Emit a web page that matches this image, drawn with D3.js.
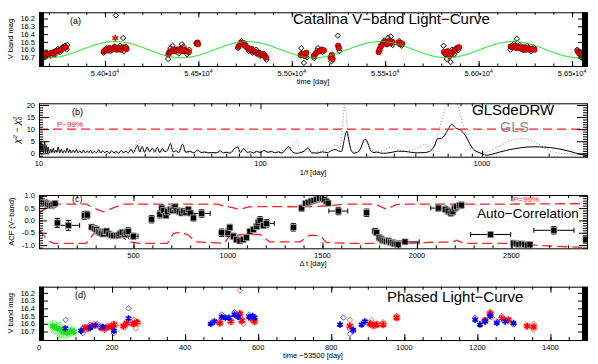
<!DOCTYPE html>
<html><head><meta charset="utf-8">
<script src="https://cdn.jsdelivr.net/npm/d3@7"></script>
<style>
body{margin:0;background:#fff}
svg{display:block;font-family:"Liberation Sans",Arial,Helvetica,sans-serif}
</style></head><body>
<svg id="c" width="598" height="364"></svg>
<script>
// ---------------- DATA ----------------
// (a) Catalina light curve: black diamonds = single observations [MJD, Vmag]
const lcDiam = [[53648,16.70],[53665,16.69],[53680,16.70],[53695,16.67],[53710,16.68],[53722,16.63],[53735,16.66],[53748,16.59],[53760,16.63],[53772,16.57],[53785,16.55],[53795,16.60],[53798,16.54],
[53992,16.64],[54010,16.58],[54030,16.62],[54050,16.56],[54058,16.16],[54080,16.55],[54097,16.45],[54100,16.62],[54112,16.56],
[54338,16.72],[54350,16.58],[54362,16.55],[54395,16.65],[54412,16.53],[54420,16.56],[54440,16.66],[54452,16.60],
[54712,16.58],[54730,16.49],[54750,16.52],[54770,16.62],[54790,16.64],[54810,16.60],[54830,16.68],[54850,16.65],[54865,16.73],
[55050,16.58],[55065,16.77],[55080,16.70],[55120,16.71],[55140,16.58],[55165,16.63],[55212,16.75],[55246,16.42],[55255,16.62],
[55475,16.57],[55495,16.48],[55515,16.45],[55530,16.43],[55540,16.54],[55575,16.49],[55588,16.55],
[55812,16.55],[55830,16.72],[55850,16.76],[55858,16.60],[55870,16.66],[55890,16.61],
[56170,16.60],[56190,16.52],[56205,16.46],[56220,16.54],[56240,16.61],[56260,16.55],[56280,16.62],[56295,16.57],
[56528,16.60],[56548,16.70],[56565,16.73],[56578,16.72]];
// red filled circles = nightly means
const lcRed = [[53650,16.67],[53660,16.66],[53672,16.68],[53685,16.65],[53700,16.66],[53712,16.64],[53725,16.65],[53738,16.62],[53752,16.61],[53765,16.60],[53778,16.58],[53790,16.57],
[53995,16.62],[54005,16.60],[54015,16.61],[54025,16.58],[54035,16.60],[54045,16.59],[54055,16.57],[54065,16.60],[54075,16.58],[54085,16.60],[54095,16.57],[54105,16.58],[54115,16.59],
[54340,16.66],[54345,16.63],[54355,16.62],[54365,16.60],[54375,16.62],[54385,16.60],[54395,16.61],[54405,16.59],[54415,16.62],[54425,16.60],[54435,16.62],[54448,16.63],
[54490,16.52],[54495,16.51],[54498,16.53],
[54715,16.56],[54725,16.53],[54735,16.51],[54745,16.54],[54755,16.56],[54765,16.58],[54775,16.60],[54785,16.59],[54795,16.62],[54805,16.63],[54815,16.65],[54825,16.64],[54835,16.66],[54845,16.67],[54855,16.68],[54862,16.70],
[55048,16.67],[55055,16.65],[55062,16.66],[55070,16.68],[55078,16.64],
[55118,16.68],[55128,16.65],[55138,16.62],[55148,16.62],[55160,16.60],[55172,16.61],
[55208,16.70],[55214,16.67],[55218,16.72],[55248,16.55],[55252,16.58],
[55465,16.63],[55470,16.60],[55478,16.55],[55488,16.52],[55498,16.50],[55508,16.53],[55518,16.49],[55528,16.52],[55538,16.50],
[55572,16.51],[55580,16.53],[55590,16.52],
[55815,16.63],[55825,16.66],[55835,16.62],[55845,16.68],[55855,16.65],[55865,16.62],[55875,16.60],[55885,16.58],[55895,16.57],
[56172,16.56],[56182,16.57],[56192,16.55],[56202,16.58],[56212,16.56],[56222,16.58],[56232,16.59],[56242,16.57],[56252,16.60],[56262,16.58],[56272,16.60],[56285,16.59],[56298,16.60],
[56530,16.62],[56540,16.65],[56550,16.66],[56560,16.68],[56570,16.70]];
const lcRedStar = [[54055,16.45]];
// sinusoidal fit (green)
const sineMean = 16.60, sineAmp = 0.104, sinePeriod = 710, sineT0 = 54054;
const lcXTicks = [54000,54500,55000,55500,56000,56500];
const lcXLabels = ["5.40","5.45","5.50","5.55","5.60","5.65"];
const magTicks = [16.2,16.3,16.4,16.5,16.6,16.7];

// (b) periodograms [period (day), chi2 - chi2_0]
const glsDeDRW = [[10.0,4.5],[10.1,0.2],[10.2,5.2],[10.3,0.5],[10.4,3.8],[10.5,0.1],[10.6,4.9],[10.7,0.3],[10.8,3.2],[10.9,0.2],[11.0,2.6],[11.15,0.1],[11.3,1.8],[11.45,0.3],[11.6,2.1],[11.75,0.1],[11.9,1.4],[12.05,0.4],[12.2,2.6],[12.4,0.2],[12.6,1.7],[12.8,0.1],[13.0,1.2],[13.2,0.3],[13.4,2.2],[13.6,0.2],[13.8,1.5],[14.0,0.1],[14.25,1.3],[14.5,0.3],[14.75,1.6],[15.0,0.2],[15.3,1.1],[15.6,0.1],[15.9,1.4],[16.2,0.2],[16.5,1.0],[16.8,0.3],[17.1,1.2],[17.4,0.1],[17.8,0.9],[18.2,0.2],[18.6,1.5],[19.0,0.1],[19.4,1.1],[19.8,0.3],[20.3,0.9],[20.8,0.1],[21.3,1.0],[21.8,0.2],[22.3,0.8],[22.9,0.1],[23.5,1.2],[24.1,0.3],[24.7,0.9],[25.3,0.1],[26.0,1.7],[26.7,0.2],[27.3,2.0],[27.9,3.2],[28.5,0.5],[29.2,2.8],[30.0,0.4],[30.8,2.6],[31.6,0.6],[32.5,2.2],[33.3,0.5],[34.2,2.5],[35.1,0.3],[36.0,2.0],[37.0,0.7],[38.0,1.2],[39.2,4.1],[40.3,0.6],[41.5,1.0],[42.8,0.3],[44.5,3.8],[46.0,0.4],[48,0.9],[50,0.2],[52,1.3],[54,0.3],[56,0.5],[58,0.2],[60,0.3],[63,0.2],[66,1.0],[68,0.2],[70,0.4],[73,0.1],[76,1.8],[79,2.6],[81,0.3],[84,1.9],[87,0.4],[90,0.6],[93,0.2],[96,0.8],[100,0.3],[104,1.2],[108,0.4],[112,0.8],[116,0.2],[120,0.6],[125,0.1],[130,1.7],[134,2.7],[138,1.0],[142,0.2],[146,0.0],[150,0.2],[158,1.0],[164,2.3],[170,0.2],[180,0.1],[190,0.6],[200,0.3],[210,1.2],[218,1.6],[225,1.0],[232,0.8],[240,6.5],[245,9.2],[251,5.0],[258,0.8],[265,0.1],[275,0.5],[285,2.5],[292,5.2],[299,5.8],[306,4.0],[315,1.0],[325,0.3],[335,0.5],[345,0.2],[360,0.0],[380,0.2],[400,0.6],[420,0.9],[449,0.8],[480,0.4],[510,0.2],[550,0.3],[580,0.8],[610,3.0],[630,6.0],[660,6.3],[700,9.5],[730,12.0],[760,10.5],[800,9.6],[840,7.5],[880,4.0],[920,1.5],[960,0.5],[1000,-0.2],[1050,-0.8],[1100,-0.5],[1200,0.5],[1350,1.6],[1500,2.3],[1700,2.7],[1900,2.6],[2200,1.9],[2500,0.8],[2800,-0.5],[2980,-1.0]];
const gls = [[10,1.0],[11,0.3],[12,0.8],[13,0.2],[14,0.7],[15,0.2],[16,0.6],[17.5,0.1],[19,0.5],[20.5,0.1],[22,0.5],[24,0.2],[25.5,2.5],[26.5,0.3],[28,5.5],[29,0.8],[31,1.5],[33,0.4],[36,1.0],[40,2.0],[44,1.5],[48,0.3],[55,0.8],[60,0.2],[70,0.6],[80,1.0],[88,2.0],[95,0.5],[105,0.8],[115,0.3],[125,1.0],[135,2.0],[145.6,5.3],[152,0.5],[160,1.0],[175,0.5],[195,1.5],[210,2.5],[220,3.5],[228,2.0],[235,12],[240,20.0],[246,12],[255,1.5],[270,0.5],[285,3.0],[298,5.0],[310,2.5],[330,0.5],[350,0.8],[370,1.8],[391,2.7],[415,1.5],[450,0.8],[500,1.8],[553,3.7],[590,2.0],[620,5.0],[660,14],[700,21],[730,23],[770,21],[820,12],[870,5],[920,1.0],[960,0.0],[1050,0.5],[1200,3.0],[1350,5.2],[1511,6.2],[1700,5.0],[1900,2.5],[2100,0.5],[2300,0.0],[2600,-0.3],[2980,-0.5]];
const glsThreshold = 10;
const glsXTicks = [10,100,1000];
const glsYTicks = [0,5,10,15,20];

// (c) ACF points [lag, acf, yerr, xerr]
const acfPts = [[5,0.85,0.12,0],[15,0.78,0.12,0],[25,0.73,0.12,0],[35,0.70,0.12,0],[45,0.66,0.12,0],[55,0.62,0.12,0],[65,0.60,0.12,0],[75,0.65,0.12,0],[85,0.68,0.12,0],
[97,-0.10,0.18,0],[155,-0.20,0.20,60],[240,0.20,0.15,0],[255,0.22,0.15,0],[279,-0.27,0.10,0],[295,-0.33,0.1,0],[305,-0.37,0.1,0],[315,-0.45,0.1,0],[323,-0.50,0.1,0],[332,-0.52,0.1,0],[340,-0.55,0.1,0],[350,-0.45,0.1,0],[358,-0.43,0.1,0],[370,-0.55,0.1,0],[385,-0.60,0.1,0],[395,-0.62,0.1,0],[411,-0.62,0.1,0],[420,-0.60,0.1,0],[429,-0.55,0.12,0],[440,-0.50,0.12,0],[455,-0.57,0.12,0],[462,-0.50,0.12,0],[472,-0.45,0.15,0],[499,-0.64,0.12,25],
[596,0.05,0.15,0],[640,0.25,0.15,0],[650,0.50,0.12,0],[660,0.40,0.12,0],[672,0.20,0.1,0],[680,0.35,0.1,0],[695,0.45,0.1,0],[705,0.40,0.1,0],[715,0.50,0.1,0],[720,0.55,0.1,0],[730,0.40,0.1,0],[742,0.35,0.1,0],[755,0.30,0.1,0],[765,0.38,0.1,0],[778,0.32,0.1,0],[790,0.45,0.1,0],[800,0.30,0.1,0],[817,0.10,0.12,0],[861,0.28,0.15,45],
[966,-0.50,0.15,0],[1000,-0.50,0.15,0],[1010,-0.28,0.12,0],[1028,-0.64,0.12,0],[1045,-0.78,0.1,0],[1063,-0.83,0.1,0],[1080,-0.78,0.1,0],[1098,-0.70,0.1,0],[1116,-0.45,0.12,0],[1134,-0.37,0.12,0],[1152,-0.25,0.12,0],[1160,-0.10,0.15,0],[1170,0.00,0.15,0],[1188,-0.20,0.12,0],[1205,-0.12,0.15,40],[1346,-0.28,0.15,0],
[1390,0.50,0.12,0],[1410,0.68,0.1,0],[1425,0.72,0.1,0],[1440,0.78,0.1,0],[1455,0.80,0.1,0],[1470,0.85,0.1,0],[1485,0.88,0.1,0],[1500,0.90,0.1,0],[1510,0.85,0.1,0],[1520,0.78,0.1,0],[1530,0.70,0.1,0],
[1584,0.38,0.15,50],[1734,0.31,0.15,0],[1778,-0.43,0.1,0],[1787,-0.50,0.1,0],[1800,-0.70,0.1,0],[1810,-0.75,0.1,0],[1820,-0.80,0.1,0],[1830,-0.82,0.1,0],[1840,-0.85,0.1,0],[1850,-0.83,0.1,0],[1860,-0.88,0.1,0],[1870,-0.90,0.1,0],[1880,-0.95,0.1,0],[1890,-0.95,0.1,0],[1900,-0.98,0.1,0],[1937,-0.87,0.05,75],
[2113,0.50,0.12,40],[2150,0.45,0.12,0],[2165,0.38,0.12,0],[2180,0.30,0.12,0],[2190,0.35,0.12,0],[2200,0.50,0.12,0],[2210,0.55,0.12,0],[2225,0.60,0.12,0],[2235,0.62,0.12,0],
[2390,-0.57,0.12,106],[2510,-0.92,0.05,0],[2525,-0.95,0.05,0],[2540,-0.97,0.05,0],[2555,-0.95,0.05,0],[2570,-0.98,0.05,0],[2585,-1.00,0.05,0],[2598,-0.97,0.05,0],[2725,-0.40,0.15,106],[2894,-0.77,0.1,0]];
const acfUpper = [[0,0.29],[30,0.45],[60,0.62],[100,0.66],[250,0.66],[290,0.5],[340,0.35],[390,0.5],[445,0.66],[940,0.66],[1000,0.56],[1063,0.45],[1110,0.55],[1200,0.56],[1380,0.55],[1450,0.56],[1540,0.6],[1620,0.66],[1780,0.66],[1840,0.45],[1890,0.64],[1950,0.66],[2450,0.66],[2650,0.67],[2900,0.68]];
const acfLower = [[0,-0.39],[40,-0.75],[60,-0.87],[80,-0.93],[250,-0.93],[290,-0.53],[330,-0.42],[380,-0.45],[440,-0.65],[470,-0.85],[530,-0.93],[680,-0.93],[710,-0.53],[750,-0.47],[790,-0.59],[830,-0.87],[980,-0.93],[1010,-0.62],[1080,-0.57],[1170,-0.57],[1220,-0.87],[1381,-0.87],[1434,-0.6],[1487,-0.62],[1522,-0.9],[1650,-0.93],[1822,-0.93],[1857,-0.8],[1910,-0.82],[1960,-0.93],[2100,-0.88],[2190,-0.88],[2208,-0.8],[2250,-0.93],[2550,-0.93],[2650,-1.02],[2900,-1.1]];
const acfXTicks = [500,1000,1500,2000,2500];
const acfYTicks = [-1.0,-0.5,0.0,0.5,1.0];

// (d) phased light curve [time-53500, Vmag]
const greenDiam = [[35,16.62],[40,16.60],[42,16.69],[44,16.66],[50,16.64],[55,16.62],[58,16.75],[60,16.70],[64,16.73],[70,16.68],[75,16.75],[80,16.71],[84,16.73],[90,16.68],[95,16.71]];
const greenStar = [[38,16.63],[47,16.65],[57,16.67],[67,16.70],[77,16.72],[87,16.69],[95,16.70]];
const blueDiam = [[73,16.55],[120,16.72],[140,16.61],[160,16.60],[205,16.72],[245,16.40],[500,16.48],[535,16.45],[575,16.48],[833,16.52],[851,16.73],[860,16.70],[1194,16.52],[1221,16.55],[1235,16.46],[1253,16.57],[1276,16.55],[1299,16.61]];
const blueStar = [[72,16.66],[115,16.69],[140,16.65],[155,16.62],[175,16.64],[205,16.69],[245,16.53],[470,16.60],[480,16.57],[500,16.51],[510,16.52],[520,16.52],[535,16.48],[545,16.51],[575,16.51],[585,16.50],[590,16.52],[824,16.61],[860,16.68],[883,16.61],[892,16.57],[1194,16.55],[1207,16.61],[1221,16.57],[1235,16.50],[1253,16.59],[1276,16.57],[1299,16.59]];
const redDiam = [[130,16.68],[150,16.60],[180,16.68],[210,16.62],[235,16.65],[260,16.55],[265,16.66],[273,16.60],[495,16.57],[550,16.17],[555,16.53],[560,16.60],[590,16.55],[851,16.55],[851,16.67],[910,16.55],[920,16.63],[942,16.58],[979,16.50],[1235,16.44],[1240,16.52],[1267,16.50],[1285,16.57],[1354,16.60],[1354,16.68]];
const redStar = [[125,16.65],[135,16.66],[145,16.63],[170,16.65],[180,16.66],[190,16.64],[200,16.64],[205,16.61],[231,16.63],[240,16.59],[258,16.60],[268,16.58],[495,16.59],[525,16.57],[550,16.47],[555,16.56],[580,16.53],[590,16.57],[851,16.63],[906,16.60],[915,16.62],[924,16.61],[942,16.61],[979,16.52],[1221,16.56],[1235,16.47],[1267,16.53],[1285,16.55],[1336,16.63],[1354,16.64]];
const phXTicks = [0,200,400,600,800,1000,1200,1400];

// ---------------- DRAWING ----------------
const svg = d3.select("#c");
const X0 = 39, X1 = 587;
const defs = svg.append("defs");
function clip(id, top, bot){
  defs.append("clipPath").attr("id", id).append("rect").attr("x", X0).attr("y", top).attr("width", X1 - X0).attr("height", bot - top);
  return svg.append("g").attr("clip-path", `url(#${id})`);
}
const diamondSym = { draw(ctx, size){ const r = Math.sqrt(size) / 2; ctx.moveTo(0,-r); ctx.lineTo(r,0); ctx.lineTo(0,r); ctx.lineTo(-r,0); ctx.closePath(); } };

function axes(x, o){
  const g = svg.append("g");
  const add = (gen, vals, size, tr) => {
    const a = g.append("g").attr("transform", tr).call(gen.tickValues(vals).tickSize(size).tickFormat(() => ""));
    a.select(".domain").remove(); a.selectAll("text").remove();
    a.selectAll("line").attr("stroke", "#000").attr("stroke-width", 1);
  };
  const y = o.y;
  add(d3.axisBottom(x), o.xMin, -o.xMinL, `translate(0,${o.bot})`);
  add(d3.axisBottom(x), o.xMaj, -o.xMajL, `translate(0,${o.bot})`);
  add(d3.axisTop(x), o.xMin, -o.xMinL, `translate(0,${o.top})`);
  add(d3.axisTop(x), o.xMaj, -o.xMajL, `translate(0,${o.top})`);
  add(d3.axisLeft(y), o.yMin, -o.yMinL, `translate(${X0},0)`);
  add(d3.axisLeft(y), o.yMaj, -o.yMajL, `translate(${X0},0)`);
  add(d3.axisRight(y), o.yMin, -o.yMinL, `translate(${X1},0)`);
  add(d3.axisRight(y), o.yMaj, -o.yMajL, `translate(${X1},0)`);
  g.append("rect").attr("x", X0 + 0.5).attr("y", o.top + 0.5).attr("width", X1 - X0).attr("height", o.bot - o.top)
    .attr("fill", "none").attr("stroke", "#000").attr("stroke-width", 1);
  g.selectAll(null).data(o.yMaj).join("text").attr("x", X0 - 4).attr("y", d => y(d) + 2.7)
    .attr("text-anchor", "end").attr("font-size", 7.5).attr("fill", "#000").text(o.yFmt);
  const xl = g.selectAll(null).data(o.xMaj).join("text").attr("x", d => x(d)).attr("y", o.bot + 9.5)
    .attr("text-anchor", "middle").attr("font-size", 7.5).attr("fill", "#000");
  if (o.xSci) {
    xl.each(function(d, i){ const t = d3.select(this); t.append("tspan").text(o.xSci[i] + "\u2022" + "10"); t.append("tspan").attr("dy", -3).attr("font-size", 5).text("4"); });
  } else xl.text(o.xFmt);
  g.append("text").attr("x", (X0 + X1) / 2).attr("y", o.bot + 18).attr("text-anchor", "middle").attr("font-size", 7.5).text(o.xTitle);
  if (o.yTitle) g.append("text").attr("transform", `translate(${o.yTx},${(o.top + o.bot) / 2}) rotate(-90)`).attr("text-anchor", "middle").attr("font-size", 7.5).text(o.yTitle);
  g.append("text").attr("x", o.lab[0]).attr("y", o.lab[1]).attr("font-size", 9).text(o.lab[2]);
  return g;
}

// ===== Panel (a) =====
{
  const top = 12.3, bot = 66;
  const x = d3.scaleLinear().domain([53647, 56580]).range([X0, X1]);
  const y = d3.scaleLinear().domain([16.12, 16.81]).range([top, bot]);
  const g = clip("ca", top, bot);
  g.selectAll(null).data(lcDiam).join("path").attr("d", d3.symbol(diamondSym, 28))
    .attr("transform", d => `translate(${x(d[0])},${y(d[1])})`).attr("fill", "none").attr("stroke", "#000").attr("stroke-width", 1);
  g.selectAll(null).data(lcRed).join("circle").attr("cx", d => x(d[0])).attr("cy", d => y(d[1])).attr("r", 2.8)
    .attr("fill", "#f00000").attr("stroke", "#5a0000").attr("stroke-width", 0.6);
  g.selectAll(null).data(lcRedStar).join("path").attr("d", d3.symbol(d3.symbolAsterisk, 30))
    .attr("transform", d => `translate(${x(d[0])},${y(d[1])})`).attr("fill", "none").attr("stroke", "#ff0000").attr("stroke-width", 1.5);
  const ts = d3.range(53647, 56580, 4);
  g.append("path").datum(ts).attr("fill", "none").attr("stroke", "#00e000").attr("stroke-width", 1)
    .attr("d", d3.line().x(t => x(t)).y(t => y(sineMean - sineAmp * Math.cos(2 * Math.PI * (t - sineT0) / sinePeriod))));
  axes(x, {y, top, bot, xMaj: lcXTicks, xMin: d3.range(53700, 56580, 100), xMajL: 5, xMinL: 2.5,
    yMaj: magTicks, yMin: d3.range(16.12, 16.81, 0.005), yMajL: 9, yMinL: 5, yFmt: d => d.toFixed(1),
    xSci: lcXLabels, xTitle: "time [day]", yTitle: "V band mag", yTx: 13, lab: [70, 24, "(a)"]});
  svg.append("text").attr("x", 293).attr("y", 23.5).attr("font-size", 15).text("Catalina V\u2212band Light\u2212Curve");
}

// ===== Panel (b) =====
{
  const top = 103.3, bot = 156.7;
  const x = d3.scaleLog().domain([10, 2980]).range([X0, X1]);
  const y = d3.scaleLinear().domain([-1.4, 20.7]).range([bot, top]);
  const g = clip("cb", top, bot);
  const line = d3.line().x(d => x(d[0])).y(d => y(d[1])).curve(d3.curveMonotoneX);
  g.append("path").datum(gls).attr("d", line).attr("fill", "none").attr("stroke", "#8c8c8c").attr("stroke-width", 1).attr("stroke-dasharray", "1,2");
  g.append("path").datum(glsDeDRW).attr("d", line).attr("fill", "none").attr("stroke", "#000").attr("stroke-width", 1);
  g.append("line").attr("x1", X0).attr("x2", X1).attr("y1", y(glsThreshold)).attr("y2", y(glsThreshold))
    .attr("stroke", "#ff2020").attr("stroke-width", 1.3).attr("stroke-dasharray", "9,5");
  const minors = [20,30,40,50,60,70,80,90,200,300,400,500,600,700,800,900,2000];
  axes(x, {y, top, bot, xMaj: glsXTicks, xMin: minors, xMajL: 6, xMinL: 3,
    yMaj: glsYTicks, yMin: d3.range(-1, 21, 1), yMajL: 10, yMinL: 4, yFmt: d => d,
    xFmt: d => d, xTitle: "1/f [day]", yTitle: null, lab: [72, 115, "(b)"]});
  const t = svg.append("text").attr("transform", `translate(20,${(top + bot) / 2}) rotate(-90)`).attr("text-anchor", "middle").attr("font-size", 9).attr("font-style", "italic");
  t.append("tspan").text("\u03c7");
  t.append("tspan").attr("dy", -3).attr("font-size", 6).text("2");
  t.append("tspan").attr("dy", 3).text(" \u2212 \u03c7");
  t.append("tspan").attr("dy", 2).attr("font-size", 6).text("0");
  t.append("tspan").attr("dy", -5).attr("dx", -3.3).attr("font-size", 6).text("2");
  svg.append("text").attr("x", 57).attr("y", 127).attr("font-size", 8).attr("fill", "#ff2020").text("P~99%");
  svg.append("text").attr("x", 472).attr("y", 115).attr("font-size", 15).text("GLSdeDRW");
  svg.append("text").attr("x", 500).attr("y", 131.5).attr("font-size", 14.5).attr("fill", "#8c8c8c").text("GLS");
}

// ===== Panel (c) =====
{
  const top = 195, bot = 248.3;
  const x = d3.scaleLinear().domain([0, 2900]).range([X0, X1]);
  const y = d3.scaleLinear().domain([-1.13, 1.03]).range([bot, top]);
  const g = clip("cc", top, bot);
  const line = d3.line().x(d => x(d[0])).y(d => y(d[1]));
  [acfUpper, acfLower].forEach(a => g.append("path").datum(a).attr("d", line).attr("fill", "none")
    .attr("stroke", "#ff2020").attr("stroke-width", 1.3).attr("stroke-dasharray", "10,5"));
  const eb = g.append("g").attr("stroke", "#000").attr("stroke-width", 1);
  acfPts.forEach(d => {
    const cx = x(d[0]), y1 = y(d[1] + d[2]), y2 = y(d[1] - d[2]);
    eb.append("line").attr("x1", cx).attr("x2", cx).attr("y1", y1).attr("y2", y2);
    eb.append("line").attr("x1", cx - 2.5).attr("x2", cx + 2.5).attr("y1", y1).attr("y2", y1);
    eb.append("line").attr("x1", cx - 2.5).attr("x2", cx + 2.5).attr("y1", y2).attr("y2", y2);
    if (d[3] > 0) {
      const xa = x(d[0] - d[3]), xb = x(d[0] + d[3]), cy = y(d[1]);
      eb.append("line").attr("x1", xa).attr("x2", xb).attr("y1", cy).attr("y2", cy);
      eb.append("line").attr("x1", xa).attr("x2", xa).attr("y1", cy - 2.5).attr("y2", cy + 2.5);
      eb.append("line").attr("x1", xb).attr("x2", xb).attr("y1", cy - 2.5).attr("y2", cy + 2.5);
    }
  });
  g.selectAll(null).data(acfPts).join("rect").attr("x", d => x(d[0]) - 3).attr("y", d => y(d[1]) - 3)
    .attr("width", 6).attr("height", 6).attr("fill", "#000").attr("stroke", "#a8a8a8").attr("stroke-width", 0.8);
  axes(x, {y, top, bot, xMaj: acfXTicks, xMin: d3.range(100, 2900, 100), xMajL: 6, xMinL: 3,
    yMaj: acfYTicks, yMin: d3.range(-1.1, 1.05, 0.1), yMajL: 8, yMinL: 4, yFmt: d => d.toFixed(1).replace("-0.0","0.0"),
    xFmt: d => d, xTitle: "\u0394 t [day]", yTitle: "ACF (V\u2212band)", yTx: 14, lab: [72, 202, "(c)"]});
  svg.append("text").attr("x", 513).attr("y", 202).attr("font-size", 8).attr("fill", "#ff2020").text("P=99%");
  svg.append("text").attr("x", 477).attr("y", 218).attr("font-size", 13.5).text("Auto\u2212Correlation");
}

// ===== Panel (d) =====
{
  const top = 286.7, bot = 340;
  const x = d3.scaleLinear().domain([0, 1500]).range([X0, X1]);
  const y = d3.scaleLinear().domain([16.12, 16.81]).range([top, bot]);
  const g = clip("cd", top, bot);
  const diam = (data, col) => g.selectAll(null).data(data).join("path").attr("d", d3.symbol(diamondSym, 30))
    .attr("transform", d => `translate(${x(d[0])},${y(d[1])})`).attr("fill", "none").attr("stroke", col).attr("stroke-width", 0.8);
  const star = (data, col) => g.selectAll(null).data(data).join("path").attr("d", d3.symbol(d3.symbolAsterisk, 28))
    .attr("transform", d => `translate(${x(d[0])},${y(d[1])})`).attr("fill", "none").attr("stroke", col).attr("stroke-width", 1.8);
  const ring = (data, col) => g.selectAll(null).data(data).join("circle").attr("cx", d => x(d[0])).attr("cy", d => y(d[1])).attr("r", 3.5)
    .attr("fill", "none").attr("stroke", col).attr("stroke-width", 0.7);
  diam(greenDiam, "#44ee44"); ring(greenDiam, "#66ff66"); star(greenStar, "#22dd22");
  diam(redDiam, "#ff4040"); ring(redStar, "#ff5050");
  diam(blueDiam, "#3030ff");
  star(redStar, "#ff0000");
  star(blueStar, "#0000ff");
  axes(x, {y, top, bot, xMaj: phXTicks, xMin: d3.range(50, 1500, 50), xMajL: 6, xMinL: 3,
    yMaj: magTicks, yMin: d3.range(16.12, 16.81, 0.005), yMajL: 9, yMinL: 5, yFmt: d => d.toFixed(1),
    xFmt: d => d, xTitle: "time \u221253500 [day]", yTitle: "V band mag", yTx: 13, lab: [75, 298, "(d)"]});
  svg.append("text").attr("x", 387).attr("y", 302).attr("font-size", 15).text("Phased Light\u2212Curve");
}
</script>
</body></html>
